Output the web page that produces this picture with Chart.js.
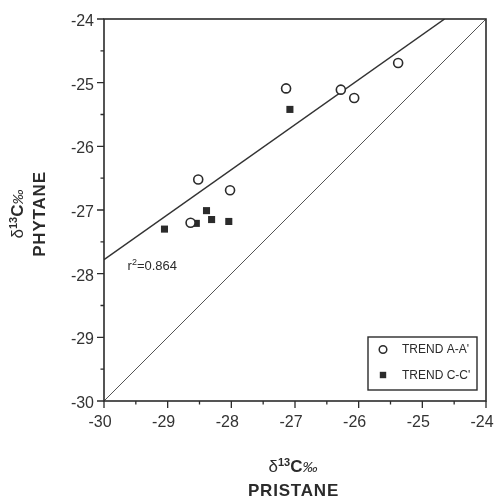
<!DOCTYPE html>
<html>
<head>
<meta charset="utf-8">
<script src="https://cdn.jsdelivr.net/npm/chart.js@4.4.1/dist/chart.umd.min.js"></script>
<style>
  html, body { margin: 0; padding: 0; background: #fff; }
  #wrap { width: 497px; height: 498px; }
</style>
</head>
<body>
<div id="wrap"><canvas id="isoChart" width="497" height="498"></canvas></div>
<script>
// values (delta 13C, per mil)
const trendAX = [-25.38, -27.14, -26.28, -26.07, -28.52, -28.02, -28.64];
const trendAY = [-24.69, -25.09, -25.11, -25.24, -26.52, -26.69, -27.20];
const trendCX = [-27.08, -29.05, -28.55, -28.39, -28.31, -28.04];
const trendCY = [-25.42, -27.30, -27.21, -27.01, -27.15, -27.18];
// regression line and the 1:1 line
const fitX = [-30, -24.65];
const fitY = [-27.78, -24];
const equalX = [-30, -24];
const equalY = [-30, -24];
const seriesNames = ["TREND A-A'", "TREND C-C'"];
const rSquared = '0.864';
const rLabelAt = [-29.63, -27.87];
const axisMin = -30, axisMax = -24;

const ink = '#2b2b2b';
const fontFam = '"Liberation Sans", Arial, Helvetica, sans-serif';

function pairs(xs, ys) {
  let out = [];
  for (let i = 0; i < xs.length; i++) out.push({ x: xs[i], y: ys[i] });
  return out;
}

// draws "δ13C‰" centred on (cx, cy) in current transform
function drawDelta(ctx, cx, cy) {
  const parts = [
    { t: '\u03B4', f: '17px ' + fontFam, dy: 0 },
    { t: '13', f: 'bold 11px ' + fontFam, dy: -6 },
    { t: 'C', f: 'bold 17px ' + fontFam, dy: 0 },
    { t: '\u2030', f: 'italic 15px ' + fontFam, dy: 0 }
  ];
  let total = 0;
  parts.forEach(p => { ctx.font = p.f; p.w = ctx.measureText(p.t).width; total += p.w; });
  let x = cx - total / 2;
  ctx.textAlign = 'left';
  ctx.textBaseline = 'alphabetic';
  parts.forEach(p => {
    ctx.font = p.f;
    ctx.fillText(p.t, x, cy + 6 + p.dy);
    x += p.w;
  });
}

const decorations = {
  id: 'decorations',
  afterDraw(chart) {
    const ctx = chart.ctx;
    const area = chart.chartArea;
    const xs = chart.scales.x, ys = chart.scales.y;
    ctx.save();
    ctx.strokeStyle = ink;
    ctx.fillStyle = ink;

    // frame
    ctx.lineWidth = 1.6;
    ctx.strokeRect(area.left, area.top, area.right - area.left, area.bottom - area.top);

    // outward tick marks
    ctx.lineWidth = 1.3;
    ctx.beginPath();
    xs.ticks.forEach(t => {
      let px = xs.getPixelForValue(t.value);
      let len = Number.isInteger(t.value) ? 7 : 3.5;
      ctx.moveTo(px, area.bottom);
      ctx.lineTo(px, area.bottom + len);
    });
    ys.ticks.forEach(t => {
      let py = ys.getPixelForValue(t.value);
      let len = Number.isInteger(t.value) ? 7 : 3.5;
      ctx.moveTo(area.left, py);
      ctx.lineTo(area.left - len, py);
    });
    ctx.stroke();

    // r2 note
    let rx = xs.getPixelForValue(rLabelAt[0]);
    let ry = ys.getPixelForValue(rLabelAt[1]);
    ctx.textBaseline = 'alphabetic';
    ctx.textAlign = 'left';
    ctx.font = '13px ' + fontFam;
    ctx.fillText('r', rx, ry + 5);
    let w = ctx.measureText('r').width;
    ctx.font = '9px ' + fontFam;
    ctx.fillText('2', rx + w, ry);
    w += ctx.measureText('2').width;
    ctx.font = '13px ' + fontFam;
    ctx.fillText('=' + rSquared, rx + w, ry + 5);

    // legend box
    const bw = 109, bh = 53;
    const bx = area.right - 9 - bw, by = area.bottom - 11 - bh;
    ctx.lineWidth = 1.4;
    ctx.strokeRect(bx, by, bw, bh);
    const rows = [by + 12.5, by + 38];
    ctx.font = '12px ' + fontFam;
    ctx.textBaseline = 'middle';
    // open circle
    ctx.beginPath();
    ctx.fillStyle = '#fff';
    ctx.lineWidth = 1.5;
    ctx.arc(bx + 15, rows[0], 3.8, 0, Math.PI * 2);
    ctx.fill();
    ctx.stroke();
    ctx.fillStyle = ink;
    ctx.fillRect(bx + 15 - 3.2, rows[1] - 3.2, 6.4, 6.4);
    ctx.fillText(seriesNames[0], bx + 34, rows[0] + 0.5);
    ctx.fillText(seriesNames[1], bx + 34, rows[1] + 0.5);

    // axis titles
    drawDelta(ctx, 293, 466);
    ctx.font = 'bold 17px ' + fontFam;
    ctx.letterSpacing = '0.8px';
    ctx.textAlign = 'center';
    ctx.textBaseline = 'middle';
    ctx.fillText('PRISTANE', 293.5, 491);
    ctx.letterSpacing = '0px';

    ctx.save();
    ctx.translate(17, 214);
    ctx.rotate(-Math.PI / 2);
    drawDelta(ctx, 0, 0);
    ctx.restore();
    ctx.save();
    ctx.translate(40, 214);
    ctx.rotate(-Math.PI / 2);
    ctx.font = 'bold 17px ' + fontFam;
    ctx.letterSpacing = '0.8px';
    ctx.textAlign = 'center';
    ctx.textBaseline = 'middle';
    ctx.fillText('PHYTANE', 0, 0);
    ctx.restore();

    ctx.restore();
  }
};

function tickLabel(value) {
  return Number.isInteger(value) ? String(value) : '';
}

const ctx = document.getElementById('isoChart').getContext('2d');
new Chart(ctx, {
  type: 'scatter',
  data: {
    datasets: [
      {
        label: seriesNames[0],
        data: pairs(trendAX, trendAY),
        pointStyle: 'circle',
        pointRadius: 4.5,
        pointHoverRadius: 4.5,
        borderWidth: 1.6,
        borderColor: ink,
        backgroundColor: '#fff',
        order: 0
      },
      {
        label: seriesNames[1],
        data: pairs(trendCX, trendCY),
        pointStyle: 'rect',
        pointRadius: 5,
        pointHoverRadius: 5,
        borderWidth: 0,
        borderColor: ink,
        backgroundColor: ink,
        order: 0
      },
      {
        label: 'fit',
        data: pairs(fitX, fitY),
        showLine: true,
        pointRadius: 0,
        borderColor: '#333',
        borderWidth: 1.5,
        order: 1
      },
      {
        label: '1:1',
        data: pairs(equalX, equalY),
        showLine: true,
        pointRadius: 0,
        borderColor: '#555',
        borderWidth: 1,
        order: 1
      }
    ]
  },
  options: {
    responsive: false,
    animation: false,
    devicePixelRatio: 1,
    layout: { padding: { top: 19, right: 11, left: 0, bottom: 0 } },
    plugins: { legend: { display: false }, tooltip: { enabled: false } },
    scales: {
      x: {
        type: 'linear',
        min: axisMin,
        max: axisMax,
        grid: { display: false, drawTicks: false },
        border: { display: false },
        afterFit: s => { s.height = 97; s.paddingLeft = 0; s.paddingRight = 0; },
        ticks: {
          stepSize: 0.5,
          autoSkip: false,
          maxRotation: 0,
          padding: 12,
          labelOffset: -4,
          color: '#333',
          font: { family: fontFam, size: 16 },
          callback: tickLabel
        }
      },
      y: {
        type: 'linear',
        min: axisMin,
        max: axisMax,
        grid: { display: false, drawTicks: false },
        border: { display: false },
        afterFit: s => { s.width = 104; s.paddingTop = 0; s.paddingBottom = 0; },
        ticks: {
          stepSize: 0.5,
          autoSkip: false,
          padding: 10,
          labelOffset: 2.5,
          color: '#333',
          font: { family: fontFam, size: 16 },
          callback: tickLabel
        }
      }
    }
  },
  plugins: [decorations]
});
</script>
</body>
</html>
